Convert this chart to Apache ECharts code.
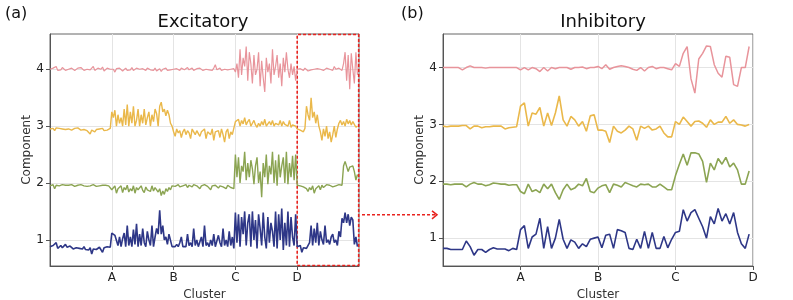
<!DOCTYPE html>
<html>
<head>
<meta charset="utf-8">
<script src="https://cdn.jsdelivr.net/npm/echarts@6/dist/echarts.min.js"></script>
<style>html,body{margin:0;padding:0;background:#fff}#c{width:793px;height:300px}</style>
</head>
<body>
<div id="c"></div>
<script>
// ---- data ----
const clusterLabels = ['A', 'B', 'C', 'D'];
const yTicks = [1, 2, 3, 4];

// Excitatory (left panel), 40 samples per cluster segment, 5 segments
const excComp1 = [
0.88,0.86,0.9,0.87,0.95,0.85,0.88,0.9,0.86,0.88,0.92,0.87,0.86,0.89,0.88,0.84,0.87,0.86,0.89,0.85,0.86,0.84,0.88,0.83,0.86,0.82,0.86,0.75,0.84,0.86,0.83,0.8,0.87,0.85,0.78,0.86,0.84,0.88,0.85,0.87,
1.12,1.15,1.08,1.1,0.9,1.05,0.88,1.02,1.12,0.88,1.25,0.9,1.05,0.88,1.18,0.92,1.28,0.88,1.1,0.9,1.2,0.95,0.88,1.15,1.0,0.9,1.25,0.88,1.05,1.2,1.1,1.52,1.1,1.25,1.0,1.05,0.92,1.1,1.08,0.88,
0.9,0.88,0.92,0.88,0.95,1.05,0.88,0.9,0.88,1.1,0.9,0.95,0.88,1.2,0.9,1.0,0.88,0.9,1.05,0.88,1.25,0.9,0.95,0.88,1.0,0.9,1.1,0.88,0.9,1.08,0.95,0.88,1.2,0.9,1.0,0.88,1.15,0.9,1.05,0.85,
1.48,0.95,1.45,0.88,1.4,1.1,1.5,0.9,1.3,1.45,0.88,1.5,1.0,1.35,0.85,1.45,1.2,0.9,1.48,1.05,0.85,1.4,0.95,1.3,1.15,0.88,1.5,0.85,1.45,1.0,1.55,0.82,1.3,0.9,1.5,0.88,1.4,1.05,0.9,1.45,
0.88,0.85,0.9,0.78,0.86,0.88,0.85,0.87,0.95,1.25,0.9,1.2,0.95,1.3,0.9,1.15,1.0,0.92,1.25,0.95,1.0,0.92,1.05,1.1,0.95,1.0,0.9,1.15,1.05,1.38,1.3,1.48,1.3,1.45,1.25,1.4,1.35,0.92,1.05,0.88
];
const excComp2 = [
1.95,1.92,1.97,1.9,1.96,1.94,1.95,1.93,1.97,1.95,1.96,1.94,1.96,1.95,1.97,1.96,1.94,1.95,1.96,1.95,1.97,1.96,1.95,1.97,1.94,1.96,1.95,1.96,1.97,1.95,1.94,1.96,1.95,1.97,1.96,1.95,1.96,1.97,1.95,1.96,
1.88,1.85,1.95,1.82,1.9,1.87,1.95,1.83,1.92,1.88,1.96,1.84,1.9,1.86,1.95,1.82,1.92,1.88,1.85,1.95,1.87,1.83,1.93,1.88,1.9,1.85,1.95,1.86,1.92,1.88,1.84,1.9,1.78,1.86,1.8,1.9,1.85,1.92,1.88,1.95,
1.96,1.94,1.95,1.97,1.93,1.96,1.95,1.94,1.97,1.92,1.96,1.95,1.93,1.97,1.94,1.95,1.96,1.9,1.95,1.93,1.97,1.95,1.94,1.96,1.88,1.95,1.93,1.96,1.94,1.91,1.95,1.96,1.93,1.95,1.9,1.96,1.94,1.92,1.95,1.9,
2.5,2.1,2.45,2.0,2.3,2.2,2.55,2.05,2.35,2.1,2.4,2.25,1.98,2.3,2.45,2.0,2.2,1.75,2.35,2.1,2.5,1.98,2.3,2.15,2.55,2.0,2.4,1.95,2.5,2.1,2.3,2.45,2.0,2.55,1.98,2.35,2.1,2.48,2.05,2.5,
1.96,1.94,1.95,1.97,1.93,1.95,1.9,1.85,1.92,1.88,1.95,1.82,1.9,1.93,1.95,1.88,1.96,1.92,1.95,1.97,1.94,1.96,1.95,1.93,1.96,1.95,1.94,1.97,1.95,1.96,2.3,2.38,2.35,2.2,2.28,2.25,2.3,2.2,2.05,2.15
];
const excComp3 = [
2.95,2.93,2.96,2.92,2.97,2.94,2.96,2.93,2.95,2.97,2.94,2.96,2.95,2.97,2.93,2.95,2.96,2.94,2.97,2.95,2.93,2.96,2.94,2.95,2.92,2.9,2.86,2.93,2.95,2.9,2.94,2.92,2.95,2.93,2.96,2.92,2.95,2.93,2.94,2.96,
3.25,3.15,3.28,3.0,3.2,3.05,3.15,3.0,3.3,3.02,3.38,3.0,3.25,3.05,3.35,3.0,3.1,3.3,3.0,3.2,3.05,3.3,3.02,3.15,3.25,3.0,3.2,3.08,3.3,3.22,3.0,3.35,3.42,3.25,3.3,3.18,3.28,3.2,3.05,3.0,
2.9,2.82,2.95,2.88,2.92,2.8,2.9,2.95,2.85,2.92,2.88,2.78,2.95,2.9,2.85,2.92,2.95,2.82,2.9,2.88,2.95,2.78,2.9,2.92,2.85,2.95,2.75,2.9,2.88,2.92,2.8,2.95,2.85,2.72,2.9,2.95,2.78,2.9,2.85,2.82,
3.08,3.05,3.12,3.0,3.1,3.04,3.15,3.02,3.08,3.12,3.0,3.05,3.1,3.02,2.98,3.05,3.0,3.08,3.02,3.12,3.0,3.04,3.08,3.02,3.1,3.0,3.05,3.07,3.02,3.1,3.0,3.08,3.03,3.05,3.0,3.1,2.98,3.02,3.05,3.0,
2.95,2.97,2.93,2.95,2.9,2.96,3.35,3.2,3.1,3.5,3.15,3.25,3.05,3.2,3.0,2.9,2.75,2.95,2.82,3.0,2.78,2.9,2.72,2.85,3.0,2.8,2.95,3.05,3.1,3.02,3.08,3.0,3.12,3.04,3.1,3.02,3.08,3.05,2.98,3.0
];
const excComp4 = [
4.0,3.98,4.02,4.0,4.05,3.98,4.01,3.99,4.03,4.0,3.98,4.01,4.0,3.99,4.02,4.0,3.98,4.0,4.02,3.99,4.03,4.0,3.98,4.01,4.0,4.02,3.99,4.01,4.05,3.98,4.0,4.02,3.99,4.0,4.04,3.97,4.0,4.02,3.99,4.0,
3.98,4.0,3.95,4.01,3.98,4.02,3.99,3.97,4.0,4.02,3.98,4.0,3.99,4.03,3.98,4.0,4.02,3.99,4.0,3.97,4.01,4.0,3.98,4.02,4.04,3.99,4.0,3.98,4.02,3.97,4.0,4.01,3.96,4.0,3.99,4.02,3.98,4.0,3.99,4.0,
4.0,3.99,4.01,4.0,3.98,4.02,4.0,3.99,4.01,4.03,3.99,4.0,4.02,3.98,4.0,4.01,3.99,4.02,4.0,3.98,4.01,4.0,4.03,3.99,4.0,3.98,4.02,4.08,3.99,4.0,4.02,3.98,4.01,4.0,4.03,3.99,4.02,4.0,3.98,4.01,
3.95,4.1,3.85,4.35,3.9,4.2,4.05,4.4,3.8,4.3,4.1,3.75,4.25,3.9,4.0,4.3,3.7,4.15,3.85,3.6,4.2,3.95,4.1,3.75,4.35,3.9,4.05,4.25,3.85,4.1,3.7,4.2,3.95,4.3,4.0,3.85,4.1,3.9,4.05,3.8,
4.0,3.99,4.01,4.0,3.98,4.02,4.0,3.97,4.0,3.99,4.02,4.0,3.98,4.01,3.99,4.0,4.03,3.98,4.0,4.02,3.99,4.0,4.01,3.98,4.05,4.0,3.99,4.02,4.0,3.98,4.1,4.3,3.8,4.25,3.65,4.28,4.0,3.75,4.3,3.9
];

// Inhibitory (right panel), 20 samples per cluster segment, 4 segments
const inhComp1 = [
0.82,0.82,0.8,0.8,0.8,0.8,0.95,0.85,0.7,0.8,0.8,0.75,0.8,0.83,0.81,0.81,0.81,0.78,0.82,0.8,
1.15,1.22,0.82,1.02,1.07,1.35,0.82,1.2,0.82,1.0,1.33,0.98,0.82,0.97,0.93,0.82,0.9,0.85,0.98,1.0,
1.02,0.83,1.05,1.07,0.82,1.15,1.13,1.1,0.82,0.8,0.98,0.82,1.12,0.82,1.1,0.82,0.82,1.03,0.83,0.98,
1.1,1.12,1.5,1.3,1.45,1.5,1.35,1.2,1.0,1.38,1.25,1.52,1.3,1.43,1.25,1.45,1.1,0.9,0.82,1.07
];
const inhComp2 = [
1.95,1.95,1.94,1.95,1.95,1.95,1.9,1.95,1.98,1.95,1.95,1.92,1.94,1.97,1.96,1.95,1.95,1.93,1.94,1.94,
1.82,1.78,1.95,1.82,1.85,1.8,1.95,1.87,1.95,1.8,1.68,1.85,1.95,1.85,1.88,1.95,1.92,2.05,1.82,1.8,
1.88,1.92,1.94,1.8,1.95,1.93,1.9,1.98,1.95,1.92,1.9,1.95,1.94,1.95,1.9,1.9,1.95,1.9,1.85,1.85,
2.1,2.3,2.48,2.28,2.5,2.5,2.48,2.35,1.98,2.32,2.2,2.4,2.3,2.42,2.25,2.32,2.2,1.95,1.95,2.18
];
const inhComp3 = [
2.97,2.96,2.97,2.97,2.97,2.98,2.98,2.92,2.97,2.97,2.94,2.96,2.96,2.97,2.97,2.97,2.92,2.94,2.95,2.96,
3.32,3.38,2.97,3.2,3.18,3.3,2.97,3.2,2.98,3.2,3.5,3.08,2.97,3.14,3.08,2.97,3.05,2.88,3.15,3.17,
2.9,2.9,2.88,2.68,2.97,2.88,2.85,2.9,2.97,2.92,2.72,2.97,2.93,2.97,2.9,2.92,2.97,2.85,2.78,2.78,
3.05,3.0,3.13,3.05,2.97,3.05,3.06,3.02,2.95,3.08,3.0,3.04,3.04,3.14,3.02,3.08,3.0,2.99,2.97,3.0
];
const inhComp4 = [
4.0,4.0,4.0,4.0,4.0,3.96,4.0,4.03,4.0,4.0,4.0,3.99,4.0,4.0,4.0,4.0,4.0,4.0,4.0,4.0,
3.96,4.0,3.96,4.0,3.98,3.93,4.0,3.94,4.0,3.98,4.0,4.0,4.0,3.97,4.0,4.0,4.01,3.98,4.0,4.0,
4.02,3.98,4.05,3.97,4.0,4.02,4.03,4.02,4.0,3.97,3.95,4.0,3.94,4.0,4.02,3.98,4.0,4.0,3.98,3.96,
4.07,4.02,4.25,4.37,3.8,3.55,4.15,4.25,4.38,4.37,4.05,3.9,3.83,4.2,4.18,3.7,3.67,4.0,4.0,4.37
];

// ---- chart ----
const colors = { c1: '#2e3787', c2: '#8ba452', c3: '#eab84a', c4: '#e8949b' };
const FONT = 'DejaVu Sans';
const exStep = 1 / 40, inStep = 1 / 20;
const toPts = (arr, step) => arr.map((v, i) => [i * step, v]);

const leftY = { min: 0.54, max: 4.62 };
const rightY = { min: 0.51, max: 4.59 };

function xAxisCfg(grid, max) {
  return {
    type: 'value', gridIndex: grid, min: 0, max: max,
    name: 'Cluster', nameLocation: 'middle', nameGap: 19,
    nameTextStyle: { fontFamily: FONT, fontSize: 12, color: '#333' },
    axisLine: { show: true, onZero: false, lineStyle: { color: '#555', width: 1 } },
    axisTick: { show: true, length: 4, customValues: [1, 2, 3, 4], lineStyle: { color: '#555' } },
    axisLabel: { customValues: [1, 2, 3, 4], formatter: v => clusterLabels[Math.round(v) - 1] || '',
      fontFamily: FONT, fontSize: 12, color: '#222', margin: 6 },
    splitLine: { show: true, lineStyle: { color: '#e4e4e4', width: 1 } }
  };
}
function yAxisCfg(grid, r) {
  return {
    type: 'value', gridIndex: grid, min: r.min, max: r.max,
    name: 'Component', nameLocation: 'middle', nameGap: 17,
    nameTextStyle: { fontFamily: FONT, fontSize: 12, color: '#333' },
    axisLine: { show: true, onZero: false, lineStyle: { color: '#555', width: 1 } },
    axisTick: { show: true, length: 4, customValues: yTicks, lineStyle: { color: '#555' } },
    axisLabel: { customValues: yTicks, formatter: v => String(Math.round(v)),
      fontFamily: FONT, fontSize: 12, color: '#222', margin: 6 },
    splitLine: { show: true, lineStyle: { color: '#e4e4e4', width: 1 } }
  };
}
function line(name, data, step, color, grid, width) {
  return {
    name, type: 'line', xAxisIndex: grid, yAxisIndex: grid,
    data: toPts(data, step), showSymbol: false, symbol: 'none',
    lineStyle: { color, width }, itemStyle: { color }, animation: false, z: 3
  };
}

const chart = echarts.init(document.getElementById('c'), null, { renderer: 'canvas' });
const exNavy = line('exc1', excComp1, exStep, colors.c1, 0, 1.6);
exNavy.markArea = {
  silent: true,
  itemStyle: { color: 'rgba(0,0,0,0)', borderColor: '#e8231f', borderWidth: 1.6, borderType: [3, 2] },
  data: [[{ xAxis: 4, yAxis: leftY.min + 0.01 }, { xAxis: 4.995, yAxis: leftY.max - 0.01 }]]
};

chart.setOption({
  animation: false,
  textStyle: { fontFamily: FONT },
  title: [
    { text: 'Excitatory', left: 198, top: 8, textAlign: 'center', textStyle: { fontFamily: FONT, fontSize: 18, fontWeight: 'normal', color: '#111' } },
    { text: 'Inhibitory', left: 598, top: 8, textAlign: 'center', textStyle: { fontFamily: FONT, fontSize: 18, fontWeight: 'normal', color: '#111' } },
    { text: '(a)', left: 0, top: 1, textStyle: { fontFamily: FONT, fontSize: 16, fontWeight: 'normal', color: '#111' } },
    { text: '(b)', left: 396, top: 1, textStyle: { fontFamily: FONT, fontSize: 16, fontWeight: 'normal', color: '#111' } }
  ],
  grid: [
    { left: 50, top: 34, width: 309, height: 232, show: true, borderColor: '#666', borderWidth: 1, backgroundColor: 'transparent', outerBoundsMode: 'none', containLabel: false },
    { left: 443, top: 34, width: 310, height: 232, show: true, borderColor: '#666', borderWidth: 1, backgroundColor: 'transparent', outerBoundsMode: 'none', containLabel: false }
  ],
  xAxis: [xAxisCfg(0, 5), xAxisCfg(1, 4)],
  yAxis: [yAxisCfg(0, leftY), yAxisCfg(1, rightY)],
  series: [
    exNavy,
    line('exc2', excComp2, exStep, colors.c2, 0, 1.4),
    line('exc3', excComp3, exStep, colors.c3, 0, 1.4),
    line('exc4', excComp4, exStep, colors.c4, 0, 1.2),
    line('inh1', inhComp1, inStep, colors.c1, 1, 1.6),
    line('inh2', inhComp2, inStep, colors.c2, 1, 1.6),
    line('inh3', inhComp3, inStep, colors.c3, 1, 1.6),
    line('inh4', inhComp4, inStep, colors.c4, 1, 1.5)
  ]
});

// dashed connector arrow from the boxed region to the right panel
const yArrow = 1.44;
const p0 = chart.convertToPixel({ gridIndex: 0 }, [5, yArrow]);
const p1 = chart.convertToPixel({ gridIndex: 1 }, [0, yArrow]);
const x0 = p0[0] + 3, x1 = p1[0] - 6, ya = p0[1];
chart.setOption({
  graphic: [
    { type: 'line', shape: { x1: x0, y1: ya, x2: x1, y2: ya }, style: { stroke: '#e8231f', lineWidth: 1.5, lineDash: [3, 2] }, z: 10 },
    { type: 'polyline', shape: { points: [[x1 - 5, ya - 4], [x1, ya], [x1 - 5, ya + 4]] }, style: { stroke: '#e8231f', lineWidth: 1.5, fill: null }, z: 10 }
  ]
});
</script>
</body>
</html>
